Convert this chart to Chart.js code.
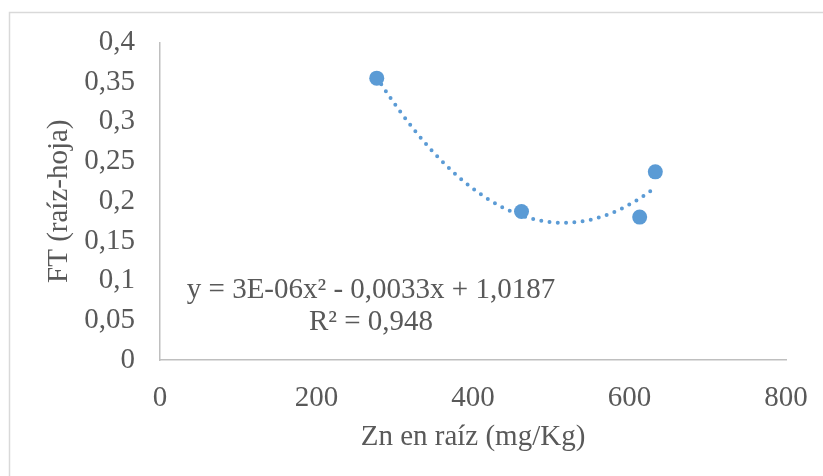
<!DOCTYPE html>
<html>
<head>
<meta charset="utf-8">
<script src="https://cdn.jsdelivr.net/npm/chart.js@4"></script>
<style>
  html, body { margin: 0; padding: 0; background: #fff; }
  #wrap { width: 823px; height: 476px; }
</style>
</head>
<body>
<div id="wrap"><canvas id="ftChart"></canvas></div>
<script>
// Zn in root (mg/Kg) vs translocation factor (root-leaf)
const znRaiz = [277, 462, 613, 633];
const ftRaizHoja = [0.355, 0.187, 0.180, 0.237];

const xTicks = [0, 200, 400, 600, 800];
const yTicks = [0, 0.05, 0.1, 0.15, 0.2, 0.25, 0.3, 0.35, 0.4];

const ecuacion = "y = 3E-06x² - 0,0033x + 1,0187";
const r2Texto = "R² = 0,948";

const azul = "#5B9BD5";
const gris = "#595959";
const fuente = "'Liberation Serif', 'Times New Roman', serif";

// least squares fit y = a x^2 + b x + c
function ajustePolinomico(xs, ys) {
    const S = [0, 0, 0, 0, 0], T = [0, 0, 0];
    xs.forEach((x, i) => {
        for (let k = 0; k <= 4; k++) S[k] += Math.pow(x, k);
        for (let k = 0; k <= 2; k++) T[k] += ys[i] * Math.pow(x, k);
    });
    const M = [
        [S[4], S[3], S[2], T[2]],
        [S[3], S[2], S[1], T[1]],
        [S[2], S[1], S[0], T[0]]
    ];
    for (let c = 0; c < 3; c++) {
        for (let r = c + 1; r < 3; r++) {
            const f = M[r][c] / M[c][c];
            for (let k = c; k < 4; k++) M[r][k] -= f * M[c][k];
        }
    }
    const sol = [0, 0, 0];
    for (let r = 2; r >= 0; r--) {
        let s = M[r][3];
        for (let k = r + 1; k < 3; k++) s -= M[r][k] * sol[k];
        sol[r] = s / M[r][r];
    }
    return sol; // [a, b, c]
}

const [a, b, c] = ajustePolinomico(znRaiz, ftRaizHoja);
const xMin = Math.min(...znRaiz), xMax = Math.max(...znRaiz);
const tendencia = [];
for (let i = 0; i <= 60; i++) {
    const x = xMin + (xMax - xMin) * i / 60;
    tendencia.push({ x: x, y: a * x * x + b * x + c });
}

// frame around the whole chart + trendline equation
const decoracion = {
    id: "decoracion",
    beforeDraw(chart) {
        const ctx = chart.ctx;
        ctx.save();
        ctx.strokeStyle = "#d9d9d9";
        ctx.lineWidth = 1.5;
        ctx.strokeRect(9.5, 12.5, 900, 600);
        ctx.restore();
    },
    afterDraw(chart) {
        const ctx = chart.ctx;
        ctx.save();
        ctx.fillStyle = gris;
        ctx.font = "29px " + fuente;
        ctx.textAlign = "center";
        ctx.textBaseline = "alphabetic";
        ctx.fillText(ecuacion, 371, 298);
        ctx.fillText(r2Texto, 371, 330);
        ctx.restore();
    }
};

const ctx = document.getElementById("ftChart").getContext("2d");
new Chart(ctx, {
    type: "scatter",
    data: {
        datasets: [
            {
                label: "FT",
                data: znRaiz.map((x, i) => ({ x: x, y: ftRaizHoja[i] })),
                backgroundColor: azul,
                borderColor: azul,
                borderWidth: 0,
                pointRadius: 7.5,
                order: 1
            },
            {
                label: "Polinómica",
                data: tendencia,
                showLine: true,
                borderColor: azul,
                borderWidth: 4,
                borderDash: [0, 8.3],
                borderCapStyle: "round",
                pointRadius: 0,
                tension: 0,
                order: 2
            }
        ]
    },
    options: {
        responsive: true,
        maintainAspectRatio: false,
        animation: false,
        layout: { padding: { left: 20, top: 42, right: 37, bottom: 0 } },
        plugins: {
            legend: { display: false },
            tooltip: { enabled: false }
        },
        scales: {
            x: {
                type: "linear",
                min: 0,
                max: 800,
                afterBuildTicks: scale => { scale.ticks = xTicks.map(v => ({ value: v })); },
                afterFit: scale => {
                    scale.height = 116;
                    scale.paddingLeft = 0;
                    scale.paddingRight = 0;
                },
                grid: { display: false, drawTicks: false },
                border: { display: true, color: "#bfbfbf", width: 1.5 },
                ticks: {
                    padding: 21,
                    color: gris,
                    font: { family: fuente, size: 29 },
                    maxRotation: 0,
                    callback: v => String(v)
                },
                title: {
                    display: true,
                    text: "Zn en raíz (mg/Kg)",
                    color: gris,
                    font: { family: fuente, size: 29 },
                    padding: { top: 0, bottom: 21 }
                }
            },
            y: {
                min: 0,
                max: 0.4,
                afterBuildTicks: scale => { scale.ticks = yTicks.map(v => ({ value: v })); },
                afterFit: scale => { scale.width = 140; },
                grid: { display: false, drawTicks: false },
                border: { display: true, color: "#bfbfbf", width: 1.5 },
                ticks: {
                    padding: 25,
                    color: gris,
                    font: { family: fuente, size: 29 },
                    callback: v => String(Math.round(v * 100) / 100).replace(".", ",")
                },
                title: {
                    display: true,
                    text: "FT (raíz-hoja)",
                    color: gris,
                    font: { family: fuente, size: 29 },
                    padding: { top: 22, bottom: 0 }
                }
            }
        }
    },
    plugins: [decoracion]
});
</script>
</body>
</html>
